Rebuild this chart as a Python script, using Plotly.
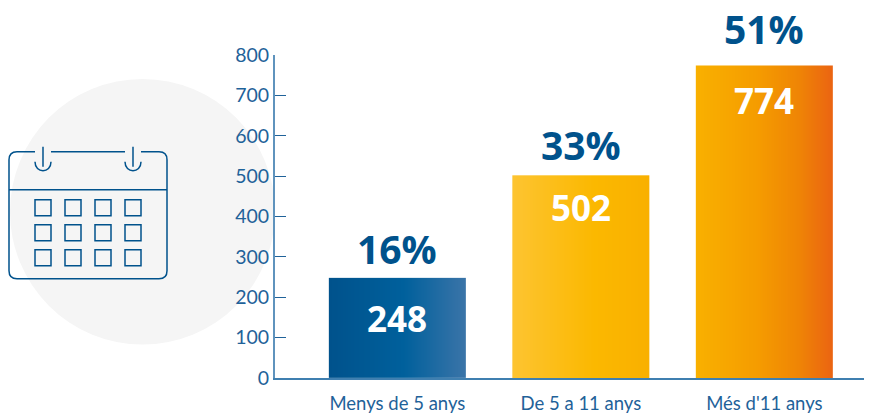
import numpy as np
import plotly.graph_objects as go

categories = ["Menys de 5 anys", "De 5 a 11 anys", "Més d'11 anys"]
values = [248, 502, 774]
percents = ["16%", "33%", "51%"]
y_ticks = [0, 100, 200, 300, 400, 500, 600, 700, 800]

BLUE = "#00528c"
TICK = "#1f6299"
AXIS = "#5f93bd"
FONT = "Open Sans"
LABEL = "Lato"
W, H = 878, 414
L, R, T, B = 275, 14, 55, 35.5
BAR_W = 0.747
gradients = [
    [[0, "#00528c"], [0.55, "#00609c"], [1, "#3a74a8"]],
    [[0, "#fdc431"], [0.6, "#fbb800"], [1, "#f9b000"]],
    [[0, "#f9b000"], [0.45, "#f59c00"], [0.75, "#ef8505"], [1, "#eb6412"]],
]
pct_shift = [29, 31, 37]
val_shift = [-41, -32, -35]


def px(x):
    return (x - L) / (W - L - R)


def py(y):
    return 1 - (y - T) / (H - T - B)


def pt(x, y):
    return f"{px(x):.5f},{py(y):.5f}"


fig = go.Figure()
for i, v in enumerate(values):
    n = 138
    fig.add_trace(go.Heatmap(
        x=np.linspace(i - BAR_W / 2, i + BAR_W / 2, n + 1),
        y=[0, v],
        z=[np.linspace(0, 1, n)],
        zmin=0, zmax=1, colorscale=gradients[i], showscale=False, hoverinfo="skip"))
fig.add_trace(go.Bar(x=[0, 1, 2], y=values, width=BAR_W,
                     marker=dict(color="rgba(0,0,0,0)", line_width=0),
                     hoverinfo="skip", showlegend=False))

annotations = []
for i, v in enumerate(values):
    annotations.append(dict(x=i, y=v, text=f"<b>{percents[i]}</b>", showarrow=False,
                            yshift=pct_shift[i], yanchor="middle",
                            font=dict(family=FONT, size=39, color=BLUE)))
    annotations.append(dict(x=i, y=v, text=f"<b>{v}</b>", showarrow=False,
                            yshift=val_shift[i], yanchor="middle",
                            font=dict(family=FONT, size=35, color="white")))

line = dict(color=BLUE, width=1.5)
shapes = [dict(type="circle", xref="paper", yref="paper", layer="below",
               x0=px(10), x1=px(275), y0=py(79), y1=py(345),
               fillcolor="#f5f5f5", line_width=0)]


def path(d):
    shapes.append(dict(type="path", xref="paper", yref="paper", path=d, line=line))


r = 8
path(f"M{pt(35, 152)} L{pt(9 + r, 152)} Q{pt(9, 152)} {pt(9, 152 + r)} "
     f"L{pt(9, 279 - r)} Q{pt(9, 279)} {pt(9 + r, 279)} "
     f"L{pt(167 - r, 279)} Q{pt(167, 279)} {pt(167, 279 - r)} "
     f"L{pt(167, 152 + r)} Q{pt(167, 152)} {pt(167 - r, 152)} L{pt(141, 152)}")
path(f"M{pt(51, 152)} L{pt(125, 152)}")
path(f"M{pt(9, 190)} L{pt(167, 190)}")
for cx in (43, 133):
    path(f"M{pt(cx, 147)} L{pt(cx, 167)}")
    path(f"M{pt(cx - 8, 162)} C{pt(cx - 8, 174)} {pt(cx + 8, 174)} {pt(cx + 8, 162)}")
for x0 in (35, 65, 95, 125):
    for y0 in (200, 225, 250):
        shapes.append(dict(type="rect", xref="paper", yref="paper",
                           x0=px(x0), x1=px(x0 + 16), y0=py(y0), y1=py(y0 + 16), line=line))

fig.update_layout(
    width=W, height=H, margin=dict(l=L, r=R, t=T, b=B, autoexpand=False),
    paper_bgcolor="white", plot_bgcolor="rgba(0,0,0,0)",
    showlegend=False, barmode="overlay",
    annotations=annotations, shapes=shapes,
    xaxis=dict(range=[-0.667, 2.543], tickvals=[0, 1, 2], ticktext=categories,
               showgrid=False, zeroline=False, showline=True, linecolor="#3f7fb0", linewidth=2,
               ticks="outside", ticklen=8, tickcolor="rgba(0,0,0,0)",
               tickfont=dict(family=LABEL, size=18.5, color=TICK), layer="above traces"),
    yaxis=dict(range=[0, 800], tickvals=y_ticks, showgrid=False, zeroline=False,
               showline=True, linecolor=AXIS, linewidth=2,
               ticks="inside", ticklen=11, tickwidth=1.3, tickcolor=TICK,
               tickfont=dict(family=LABEL, size=19.5, color=TICK)),
)
fig.write_html("out.html", config=dict(displayModeBar=False),
               post_script="document.body.style.margin='0';document.body.style.overflow='hidden';")
